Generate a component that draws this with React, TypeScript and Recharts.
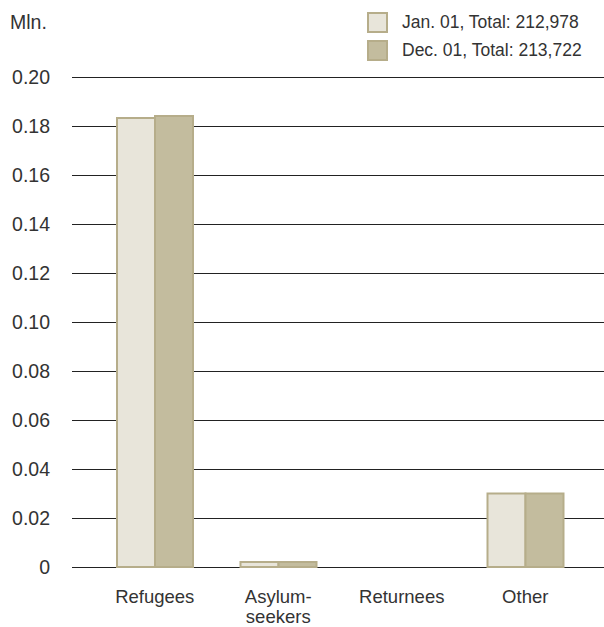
import React from 'react';
import { BarChart, Bar, XAxis, YAxis, CartesianGrid, Legend } from 'recharts';

const categories = ['Refugees', 'Asylum-\nseekers', 'Returnees', 'Other'];
const jan01 = [0.1833, 0.002, 0, 0.03];
const dec01 = [0.1841, 0.002, 0, 0.03];
const yTicks = [0, 0.02, 0.04, 0.06, 0.08, 0.1, 0.12, 0.14, 0.16, 0.18, 0.2];
const seriesNames = ['Jan. 01, Total: 212,978', 'Dec. 01, Total: 213,722'];

const JAN_FILL = '#e8e5da';
const DEC_FILL = '#c3bc9e';
const EDGE = '#b6ad8a';
const TEXT = '#333';
const FONT = '"Liberation Sans", Arial, Helvetica, sans-serif';

const data = categories.map((name, i) => ({ name, jan: jan01[i], dec: dec01[i] }));

function CategoryTick(props: any) {
  const { x, y, payload } = props;
  const lines = String(payload.value).split('\n');
  return (
    <text x={x} y={y} textAnchor="middle" fill={TEXT} fontSize={18.5} fontFamily={FONT}>
      {lines.map((line, i) => (
        <tspan key={i} x={x} dy={i === 0 ? 14 : 20}>
          {line}
        </tspan>
      ))}
    </text>
  );
}

function LegendBox() {
  const fills = [JAN_FILL, DEC_FILL];
  return (
    <div style={{ fontFamily: FONT, fontSize: 17.5, color: TEXT }}>
      {seriesNames.map((n, i) => (
        <div key={n} style={{ display: 'flex', alignItems: 'center', height: 21, marginBottom: 7 }}>
          <span
            style={{
              width: 17,
              height: 17,
              background: fills[i],
              border: `2px solid ${EDGE}`,
              marginRight: 14,
            }}
          />
          <span>{n}</span>
        </div>
      ))}
    </div>
  );
}

export default function App() {
  return (
    <div style={{ position: 'absolute', left: 0, top: 0, width: 604, height: 627, background: '#fff' }}>
      <BarChart
        width={604}
        height={627}
        data={data}
        margin={{ top: 77, right: 0, bottom: 30, left: 0 }}
        barGap={0}
        barSize={38}
      >
        <CartesianGrid vertical={false} stroke="#222" strokeWidth={1} shapeRendering="crispEdges" />
        <XAxis
          dataKey="name"
          height={30}
          axisLine={false}
          tickLine={false}
          tickSize={0}
          tickMargin={22}
          interval={0}
          padding={{ left: 21, right: 17 }}
          tick={<CategoryTick />}
        />
        <YAxis
          width={72}
          domain={[0, 0.2]}
          ticks={yTicks}
          axisLine={false}
          tickLine={false}
          tickSize={0}
          tickMargin={22}
          tickFormatter={(v: number) => (v === 0 ? '0' : v.toFixed(2))}
          tick={{ fill: TEXT, fontSize: 19.5, fontFamily: FONT }}
          label={{
            content: () => (
              <text x={10} y={29} fill={TEXT} fontSize={19.5} fontFamily={FONT}>
                Mln.
              </text>
            ),
          }}
        />
        <Legend
          layout="horizontal"
          verticalAlign="middle"
          align="center"
          content={<LegendBox />}
          wrapperStyle={{ position: 'absolute', top: 12, left: 367, width: 237 }}
        />
        <Bar dataKey="jan" name={seriesNames[0]} fill={JAN_FILL} stroke={EDGE} strokeWidth={2} isAnimationActive={false} />
        <Bar dataKey="dec" name={seriesNames[1]} fill={DEC_FILL} stroke={EDGE} strokeWidth={2} isAnimationActive={false} />
      </BarChart>
    </div>
  );
}
